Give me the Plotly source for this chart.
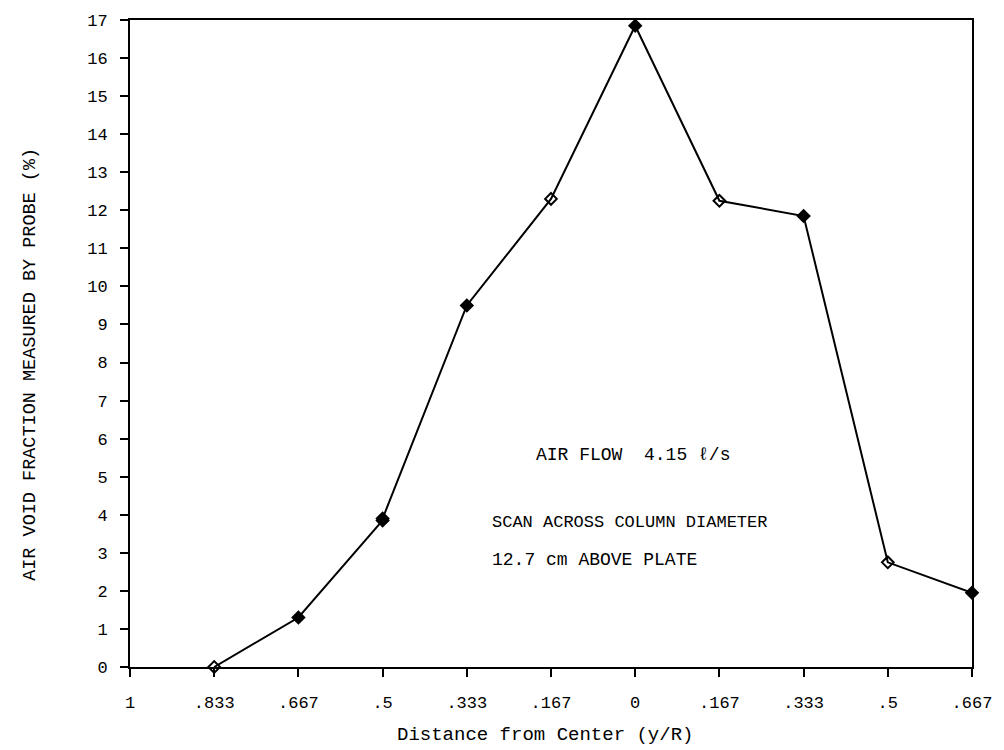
import plotly.graph_objects as go

tick_labels = ["1", ".833", ".667", ".5", ".333", ".167", "0", ".167", ".333", ".5", ".667"]
point_positions = [1, 2, 3, 3, 4, 5, 6, 7, 8, 9, 10]
void_fraction = [0.0, 1.3, 3.85, 3.9, 9.5, 12.3, 16.85, 12.25, 11.85, 2.75, 1.95]
marker_symbols = ["diamond-open", "diamond", "diamond", "diamond-open", "diamond", "diamond-open",
                  "diamond", "diamond-open", "diamond", "diamond-open", "diamond"]
y_ticks = list(range(0, 18))

x_title = "Distance from Center (y/R)"
y_title = "AIR VOID FRACTION MEASURED BY PROBE (%)"
notes = ["AIR FLOW  4.15 ℓ/s", "SCAN ACROSS COLUMN DIAMETER", "12.7 cm ABOVE PLATE"]

mono = "Liberation Mono, Courier New, monospace"
tickmono = "Liberation Mono, monospace"

fig = go.Figure()
fig.add_trace(go.Scatter(
    x=point_positions, y=void_fraction, mode="lines+markers",
    line=dict(color="black", width=2),
    marker=dict(symbol=marker_symbols, size=9, color="black",
                line=dict(color="black", width=2)),
    showlegend=False, cliponaxis=False,
))

fig.update_xaxes(
    range=[0, 10], tickmode="array", tickvals=list(range(len(tick_labels))),
    ticktext=tick_labels, ticks="outside", ticklen=8, tickwidth=2, tickcolor="black",
    ticklabelstandoff=11,
    showline=True, linecolor="black", linewidth=2, mirror=True, showgrid=False,
    zeroline=False, tickfont=dict(family=tickmono, size=17, color="black"),
)
fig.update_yaxes(
    range=[0, 17], tickmode="array", tickvals=y_ticks,
    ticks="outside", ticklen=8, tickwidth=2, tickcolor="black",
    ticklabelstandoff=9,
    showline=True, linecolor="black", linewidth=2, mirror=True, showgrid=False,
    zeroline=False, tickfont=dict(family=tickmono, size=17, color="black"),
)

# axis titles
fig.add_annotation(xref="paper", yref="paper", x=0.4934, y=-0.1046, text=x_title,
                   showarrow=False, xanchor="center", yanchor="middle",
                   font=dict(family=mono, size=19, color="black"))
fig.add_annotation(xref="paper", yref="paper", x=-0.118, y=0.468, text=y_title,
                   textangle=-90, showarrow=False, xanchor="center", yanchor="middle",
                   font=dict(family=mono, size=18.5, color="black"))

note_pos = [(4.8, 5.57), (4.28, 3.79), (4.28, 2.8)]
note_sizes = [18, 17, 18]
for text, (ax, ay), fs in zip(notes, note_pos, note_sizes):
    fig.add_annotation(x=ax, y=ay, text=text, showarrow=False, xanchor="left", yanchor="middle",
                       font=dict(family=mono, size=fs, color="black"))

fig.update_layout(
    width=1004, height=750, margin=dict(l=130, r=26, t=17, b=83),
    paper_bgcolor="white", plot_bgcolor="white",
)

fig.write_html("out.html")
